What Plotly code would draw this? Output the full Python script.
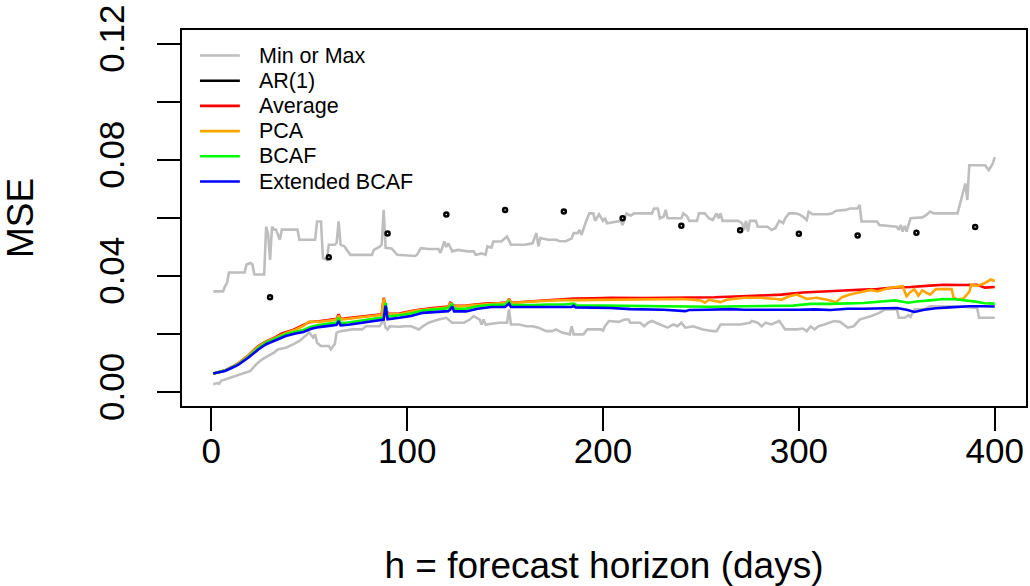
import plotly.graph_objects as go

# ---------------- data ----------------
max_h = [1, 6, 7, 8, 9, 17, 18, 20, 21, 22, 27, 28, 29, 30, 31, 32, 33, 35, 36, 44, 45, 53, 54, 56, 57, 59, 60, 63, 64, 65, 66, 68, 71, 82, 83, 86, 87, 88, 89, 92, 95, 104, 105, 107, 111, 116, 117, 119, 120, 121, 123, 126, 131, 134, 135, 138, 140, 141, 143, 144, 148, 149, 151, 153, 160, 164, 166, 167, 168, 172, 176, 178, 181, 184, 185, 187, 188, 189, 190, 191, 193, 195, 196, 198, 200, 201, 202, 209, 210, 212, 214, 216, 225, 226, 228, 229, 231, 232, 233, 240, 241, 243, 244, 248, 249, 252, 254, 256, 258, 259, 260, 261, 269, 271, 272, 273, 274, 275, 278, 279, 284, 286, 288, 290, 292, 293, 295, 298, 300, 302, 304, 305, 307, 315, 317, 319, 324, 326, 330, 331, 332, 340, 341, 350, 351, 352, 353, 354, 355, 357, 363, 365, 367, 369, 381, 383, 384, 385, 386, 387, 395, 397, 399, 400]
max_v = [0.0347, 0.0347, 0.0365, 0.0375, 0.0412, 0.0412, 0.044, 0.0445, 0.044, 0.0405, 0.0405, 0.057, 0.0545, 0.0456, 0.057, 0.056, 0.056, 0.0525, 0.056, 0.056, 0.0525, 0.0525, 0.0588, 0.0588, 0.0462, 0.0456, 0.0508, 0.0508, 0.0514, 0.0588, 0.0508, 0.0502, 0.0473, 0.0473, 0.049, 0.0501, 0.0508, 0.0628, 0.0497, 0.0495, 0.0473, 0.0469, 0.0473, 0.0496, 0.0493, 0.0493, 0.048, 0.0519, 0.05, 0.0513, 0.0485, 0.049, 0.0485, 0.0485, 0.0473, 0.0478, 0.0473, 0.0502, 0.0498, 0.0519, 0.0519, 0.0525, 0.0536, 0.0508, 0.0508, 0.0513, 0.0548, 0.0502, 0.0531, 0.0525, 0.0525, 0.052, 0.052, 0.053, 0.0548, 0.0548, 0.0559, 0.0542, 0.0565, 0.0582, 0.0616, 0.0616, 0.059, 0.0613, 0.059, 0.06, 0.0582, 0.059, 0.0576, 0.0616, 0.0608, 0.0616, 0.0616, 0.0633, 0.0633, 0.0599, 0.0605, 0.0628, 0.0599, 0.0599, 0.0616, 0.0605, 0.059, 0.059, 0.0616, 0.0616, 0.0599, 0.0593, 0.0616, 0.0599, 0.0616, 0.059, 0.059, 0.0582, 0.0559, 0.059, 0.0553, 0.059, 0.059, 0.057, 0.057, 0.0559, 0.0565, 0.059, 0.0582, 0.0599, 0.0616, 0.0616, 0.0613, 0.0605, 0.0593, 0.0622, 0.0613, 0.0613, 0.0616, 0.0625, 0.0628, 0.0633, 0.0633, 0.0645, 0.0588, 0.0588, 0.0576, 0.057, 0.0559, 0.0576, 0.0553, 0.0573, 0.0553, 0.0599, 0.0602, 0.061, 0.0622, 0.0616, 0.0616, 0.0668, 0.0685, 0.0719, 0.0662, 0.0782, 0.0782, 0.0765, 0.0788, 0.081]

min_h = [1, 3, 4, 5, 10, 15, 20, 23, 26, 29, 32, 34, 38, 42, 45, 48, 50, 52, 53, 54, 56, 60, 61, 63, 64, 66, 72, 77, 79, 86, 88, 89, 90, 91, 96, 99, 102, 106, 108, 111, 116, 120, 121, 123, 129, 132, 134, 137, 138, 139, 140, 147, 151, 152, 153, 157, 161, 164, 167, 171, 174, 176, 179, 183, 184, 185, 190, 192, 199, 200, 201, 203, 208, 211, 213, 214, 219, 221, 223, 225, 227, 231, 233, 236, 238, 240, 242, 246, 251, 256, 258, 260, 270, 275, 276, 279, 281, 283, 286, 290, 292, 293, 299, 302, 304, 306, 308, 310, 313, 318, 321, 325, 328, 331, 337, 341, 344, 349, 350, 351, 354, 356, 357, 359, 364, 367, 384, 391, 392, 400]
min_v = [0.0027, 0.0031, 0.0029, 0.0039, 0.005, 0.0062, 0.0073, 0.0096, 0.0113, 0.0125, 0.0136, 0.0147, 0.0153, 0.0165, 0.0176, 0.0193, 0.0205, 0.0188, 0.0199, 0.017, 0.0159, 0.0159, 0.0147, 0.0165, 0.0205, 0.021, 0.0216, 0.0216, 0.0227, 0.0227, 0.025, 0.0222, 0.0216, 0.0227, 0.0225, 0.0227, 0.0227, 0.0216, 0.0227, 0.0239, 0.025, 0.0256, 0.025, 0.0239, 0.0239, 0.025, 0.0262, 0.025, 0.0233, 0.025, 0.0233, 0.0239, 0.0239, 0.0285, 0.0233, 0.0233, 0.0227, 0.0227, 0.0222, 0.021, 0.021, 0.0216, 0.0205, 0.0199, 0.0227, 0.0199, 0.0199, 0.0216, 0.0216, 0.0212, 0.0227, 0.0245, 0.0242, 0.025, 0.025, 0.0239, 0.0239, 0.0227, 0.0239, 0.0245, 0.0239, 0.0227, 0.0222, 0.0233, 0.0227, 0.0239, 0.0222, 0.0227, 0.0216, 0.021, 0.021, 0.0233, 0.0233, 0.0239, 0.0245, 0.0239, 0.0227, 0.0239, 0.0233, 0.0245, 0.0227, 0.0216, 0.0216, 0.0219, 0.021, 0.0227, 0.0216, 0.0227, 0.0233, 0.0245, 0.0242, 0.0222, 0.0227, 0.025, 0.0262, 0.0273, 0.0285, 0.0285, 0.0288, 0.0256, 0.0256, 0.0265, 0.0259, 0.0285, 0.0285, 0.0296, 0.0294, 0.029, 0.0256, 0.0256]

ar_h = [30, 60, 90, 120, 150, 180, 210, 240, 270, 300, 330, 360, 390]
ar_v = [0.0327, 0.0465, 0.0547, 0.0612, 0.0628, 0.0622, 0.0599, 0.0573, 0.0558, 0.0546, 0.054, 0.0549, 0.0569]

avg_h = [1, 7, 12, 14, 19, 24, 28, 33, 36, 42, 46, 50, 55, 62, 64, 65, 66, 70, 79, 87, 88, 90, 96, 101, 104, 113, 121, 122, 124, 130, 140, 147, 151, 152, 153, 164, 179, 185, 195, 204, 221, 240, 257, 274, 291, 302, 316, 323, 333, 340, 350, 357, 367, 374, 384, 391, 395, 400]
avg_v = [0.0064, 0.0075, 0.0092, 0.01, 0.0127, 0.0159, 0.0175, 0.019, 0.0202, 0.0215, 0.0228, 0.0241, 0.0244, 0.025, 0.0253, 0.0268, 0.0252, 0.0255, 0.0262, 0.0268, 0.0325, 0.027, 0.0271, 0.0279, 0.0282, 0.029, 0.0295, 0.0308, 0.0297, 0.0298, 0.0305, 0.0307, 0.0309, 0.0321, 0.0308, 0.0313, 0.0319, 0.0322, 0.0323, 0.0325, 0.0324, 0.0325, 0.0327, 0.0331, 0.0336, 0.0343, 0.0346, 0.035, 0.0353, 0.0355, 0.0361, 0.0362, 0.0367, 0.037, 0.0369, 0.037, 0.036, 0.0362]

pca_h = [1, 7, 12, 14, 19, 24, 28, 33, 38, 43, 47, 50, 55, 62, 64, 65, 66, 70, 79, 87, 88, 90, 96, 101, 104, 113, 121, 122, 124, 130, 140, 147, 151, 152, 153, 164, 179, 187, 200, 221, 230, 240, 246, 250, 252, 254, 260, 263, 272, 280, 289, 291, 295, 299, 304, 309, 314, 318, 319, 322, 326, 333, 337, 340, 346, 353, 355, 357, 359, 361, 363, 367, 370, 378, 379, 381, 384, 387, 388, 391, 395, 398, 400]
pca_v = [0.0063, 0.0074, 0.0091, 0.0099, 0.0126, 0.0157, 0.0173, 0.0188, 0.0203, 0.0215, 0.0228, 0.0243, 0.0242, 0.0248, 0.0251, 0.0264, 0.025, 0.0253, 0.026, 0.0266, 0.0322, 0.0268, 0.0268, 0.0276, 0.028, 0.0287, 0.0292, 0.0305, 0.0295, 0.0297, 0.0303, 0.0306, 0.0308, 0.032, 0.0307, 0.0312, 0.0317, 0.0317, 0.0318, 0.032, 0.0322, 0.0321, 0.0318, 0.0316, 0.0308, 0.0318, 0.031, 0.0318, 0.0325, 0.0325, 0.0321, 0.0318, 0.033, 0.0336, 0.0321, 0.0325, 0.0319, 0.0313, 0.031, 0.0327, 0.0336, 0.0347, 0.0352, 0.0347, 0.0359, 0.0365, 0.033, 0.0345, 0.0355, 0.0332, 0.035, 0.0336, 0.0355, 0.0355, 0.0325, 0.0319, 0.0322, 0.0345, 0.037, 0.0366, 0.0376, 0.0388, 0.0383]

bcaf_h = [1, 7, 12, 14, 19, 24, 28, 33, 38, 43, 47, 51, 55, 62, 64, 65, 66, 70, 79, 85, 88, 89, 90, 96, 102, 108, 117, 121, 122, 123, 124, 130, 136, 143, 150, 152, 153, 164, 172, 180, 185, 187, 200, 221, 240, 255, 272, 285, 297, 306, 316, 333, 340, 349, 356, 360, 367, 374, 380, 385, 391, 395, 400]
bcaf_v = [0.0064, 0.0074, 0.009, 0.0097, 0.0122, 0.0152, 0.017, 0.0184, 0.0199, 0.0208, 0.0214, 0.0225, 0.0231, 0.0238, 0.024, 0.0256, 0.0238, 0.024, 0.025, 0.0257, 0.0258, 0.0308, 0.026, 0.0265, 0.0271, 0.0281, 0.0285, 0.0289, 0.0298, 0.0303, 0.0287, 0.0287, 0.0296, 0.0301, 0.0301, 0.0313, 0.0301, 0.03, 0.0302, 0.0302, 0.0305, 0.0298, 0.0298, 0.0296, 0.0293, 0.0294, 0.0296, 0.0298, 0.0298, 0.0304, 0.0304, 0.0307, 0.0311, 0.0316, 0.0308, 0.0312, 0.0316, 0.0321, 0.032, 0.0317, 0.0311, 0.0306, 0.0305]

ext_h = [1, 7, 12, 14, 19, 24, 28, 33, 38, 43, 47, 51, 55, 62, 64, 65, 66, 70, 79, 85, 88, 89, 90, 96, 102, 108, 117, 121, 122, 123, 124, 130, 136, 143, 150, 152, 153, 164, 172, 180, 184, 185, 186, 195, 204, 214, 231, 242, 244, 253, 265, 272, 282, 292, 300, 308, 316, 325, 333, 342, 350, 355, 359, 364, 370, 377, 387, 394, 400]
ext_v = [0.0064, 0.0073, 0.0088, 0.0095, 0.0119, 0.0147, 0.0165, 0.0178, 0.0193, 0.0202, 0.0207, 0.0218, 0.0224, 0.023, 0.0232, 0.0245, 0.023, 0.0232, 0.0241, 0.0248, 0.025, 0.0298, 0.0251, 0.0256, 0.0262, 0.0273, 0.0276, 0.0279, 0.0285, 0.0295, 0.0278, 0.0278, 0.0287, 0.0293, 0.0293, 0.0305, 0.0293, 0.0292, 0.0293, 0.0293, 0.0293, 0.0298, 0.0292, 0.0292, 0.029, 0.0286, 0.0284, 0.0279, 0.0283, 0.0284, 0.0286, 0.0284, 0.0283, 0.0284, 0.0284, 0.0285, 0.0283, 0.0287, 0.0287, 0.0288, 0.029, 0.0284, 0.0276, 0.0284, 0.0289, 0.0292, 0.0296, 0.0296, 0.0295]

legend_names = ["Min or Max", "AR(1)", "Average", "PCA", "BCAF", "Extended BCAF"]
legend_colors = ["#BEBEBE", "#000000", "#FF0000", "#FFA500", "#00FF00", "#0000FF"]

y_tickvals = [0.0, 0.02, 0.04, 0.06, 0.08, 0.10, 0.12]
y_ticktext = ["0.00", "", "0.04", "", "0.08", "", "0.12"]
x_tickvals = [0, 100, 200, 300, 400]
x_ticktext = ["0", "100", "200", "300", "400"]

FONT = "Liberation Sans, Arial, sans-serif"
GRAY, BLACK, RED, ORANGE, GREEN, BLUE = legend_colors

fig = go.Figure()
fig.add_trace(go.Scatter(x=min_h, y=min_v, mode="lines", name="Min or Max",
                         line=dict(color=GRAY, width=2.6)))
fig.add_trace(go.Scatter(x=max_h, y=max_v, mode="lines", name="Min or Max",
                         line=dict(color=GRAY, width=2.6)))
fig.add_trace(go.Scatter(x=ar_h, y=ar_v, mode="markers", name="AR(1)",
                         marker=dict(symbol="circle-open", size=4, color=BLACK,
                                     line=dict(width=2.5, color=BLACK))))
fig.add_trace(go.Scatter(x=avg_h, y=avg_v, mode="lines", name="Average",
                         line=dict(color=RED, width=2.6)))
fig.add_trace(go.Scatter(x=pca_h, y=pca_v, mode="lines", name="PCA",
                         line=dict(color=ORANGE, width=2.6)))
fig.add_trace(go.Scatter(x=bcaf_h, y=bcaf_v, mode="lines", name="BCAF",
                         line=dict(color=GREEN, width=2.6)))
fig.add_trace(go.Scatter(x=ext_h, y=ext_v, mode="lines", name="Extended BCAF",
                         line=dict(color=BLUE, width=2.6)))

# ---- legend drawn in the R style (no frame), positioned in plot-area fractions ----
PLOT_L, PLOT_R, PLOT_T, PLOT_B = 182, 1028, 30, 406
def fx(px):
    return (px - PLOT_L) / (PLOT_R - PLOT_L)
def fy(py):
    return (PLOT_B - py) / (PLOT_B - PLOT_T)

row0, row_step = 55.5, 25.2
shapes = []
annotations = []
for i, (name, col) in enumerate(zip(legend_names, legend_colors)):
    py = row0 + i * row_step
    shapes.append(dict(type="line", xref="paper", yref="paper",
                       x0=fx(200), x1=fx(240), y0=fy(py), y1=fy(py),
                       line=dict(color=col, width=2.6)))
    annotations.append(dict(text=name, xref="paper", yref="paper",
                            x=fx(257), y=fy(py), xanchor="left", yanchor="middle",
                            showarrow=False, font=dict(size=21.5, family=FONT, color="black")))

fig.update_layout(
    width=1030, height=586,
    margin=dict(l=PLOT_L, r=1030 - PLOT_R, t=PLOT_T, b=586 - PLOT_B, pad=0),
    paper_bgcolor="white", plot_bgcolor="white",
    font=dict(family=FONT, color="black", size=35),
    showlegend=False,
    shapes=shapes, annotations=annotations,
    xaxis=dict(range=[-14.96, 415.96], tickmode="array", tickvals=x_tickvals, ticktext=x_ticktext,
               showgrid=False, zeroline=False, showline=True, mirror=True,
               linecolor="black", linewidth=2, ticks="outside", ticklen=23, tickwidth=2,
               tickcolor="black", tickfont=dict(size=35), ticklabelstandoff=-10,
               title=dict(text="h = forecast horizon (days)", font=dict(size=37), standoff=86)),
    yaxis=dict(range=[-0.0048, 0.1248], tickmode="array", tickvals=y_tickvals, ticktext=y_ticktext,
               showgrid=False, zeroline=False, showline=True, mirror=True,
               linecolor="black", linewidth=2, ticks="outside", ticklen=23, tickwidth=2,
               tickcolor="black", tickangle=-90, tickfont=dict(size=35), ticklabelstandoff=19,
               title=dict(text="MSE", font=dict(size=37), standoff=52)),
)

fig.write_html("out.html")
